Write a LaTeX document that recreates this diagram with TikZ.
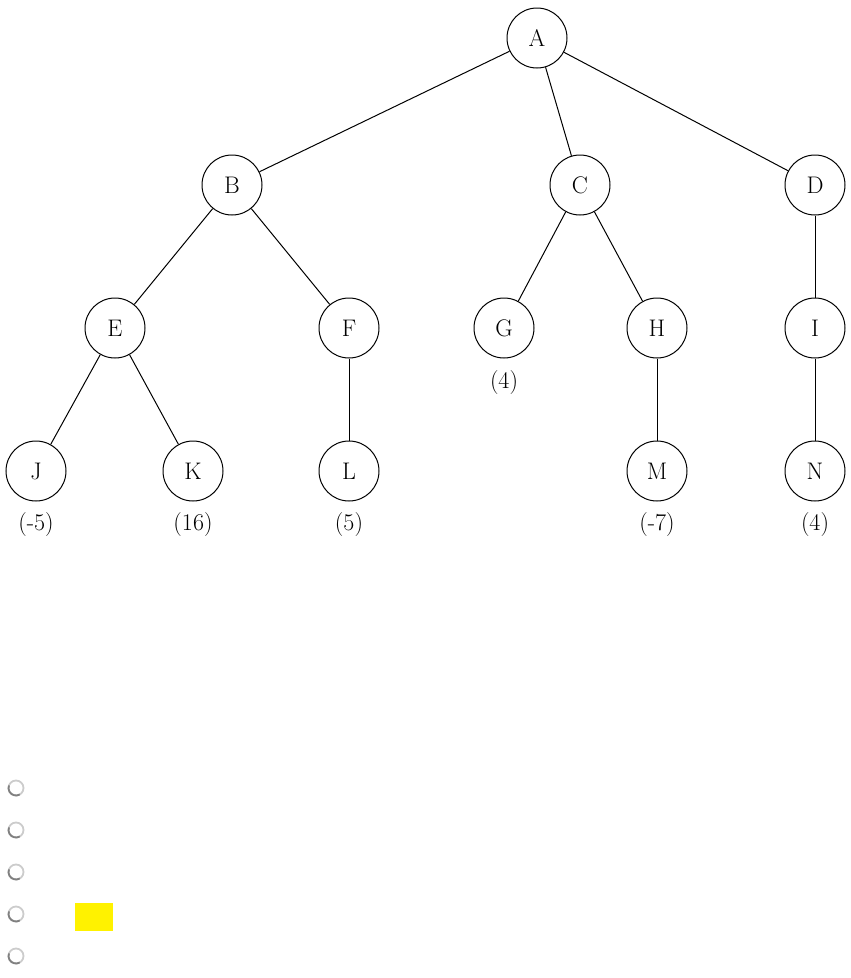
\documentclass[tikz,border=0pt]{standalone}
\begin{document}
\begin{tikzpicture}[x=1pt,y=-1pt,
  tnode/.style={circle,draw,line width=1pt,minimum size=60pt,inner sep=0pt,font=\fontsize{24}{28}\selectfont},
  val/.style={font=\fontsize{24}{28}\selectfont},
  edge/.style={line width=1pt}]
\useasboundingbox (0,0) rectangle (851,978);
\node[tnode] (A) at (537,38) {A};
\node[tnode] (B) at (232,185) {B};
\node[tnode] (C) at (580,185) {C};
\node[tnode] (D) at (815,185) {D};
\node[tnode] (E) at (115,328) {E};
\node[tnode] (F) at (349,328) {F};
\node[tnode] (G) at (504,328) {G};
\node[tnode] (H) at (657,328) {H};
\node[tnode] (I) at (815,328) {I};
\node[tnode] (J) at (36,471) {J};
\node[tnode] (K) at (193,471) {K};
\node[tnode] (L) at (349,471) {L};
\node[tnode] (M) at (657,471) {M};
\node[tnode] (N) at (815,471) {N};
\node[val] (vG) at (504,383) {(4)};
\node[val] (vJ) at (36,525) {(-5)};
\node[val] (vK) at (193,525) {(16)};
\node[val] (vL) at (349,525) {(5)};
\node[val] (vM) at (657,525) {(-7)};
\node[val] (vN) at (815,525) {(4)};
\draw[edge] (A) -- (B);
\draw[edge] (A) -- (C);
\draw[edge] (A) -- (D);
\draw[edge] (B) -- (E);
\draw[edge] (B) -- (F);
\draw[edge] (C) -- (G);
\draw[edge] (C) -- (H);
\draw[edge] (D) -- (I);
\draw[edge] (E) -- (J);
\draw[edge] (E) -- (K);
\draw[edge] (F) -- (L);
\draw[edge] (H) -- (M);
\draw[edge] (I) -- (N);
\foreach \yy in {788,830,872,914,956}{
  \draw[line width=1.8pt,gray!40] (16,\yy) circle (7.5);
  \draw[line width=1.8pt,gray] (16,\yy) ++(60:7.5) arc[start angle=60,end angle=200,radius=7.5];
}
\fill[yellow] (75,903) rectangle (113,931);
\end{tikzpicture}
\end{document}
